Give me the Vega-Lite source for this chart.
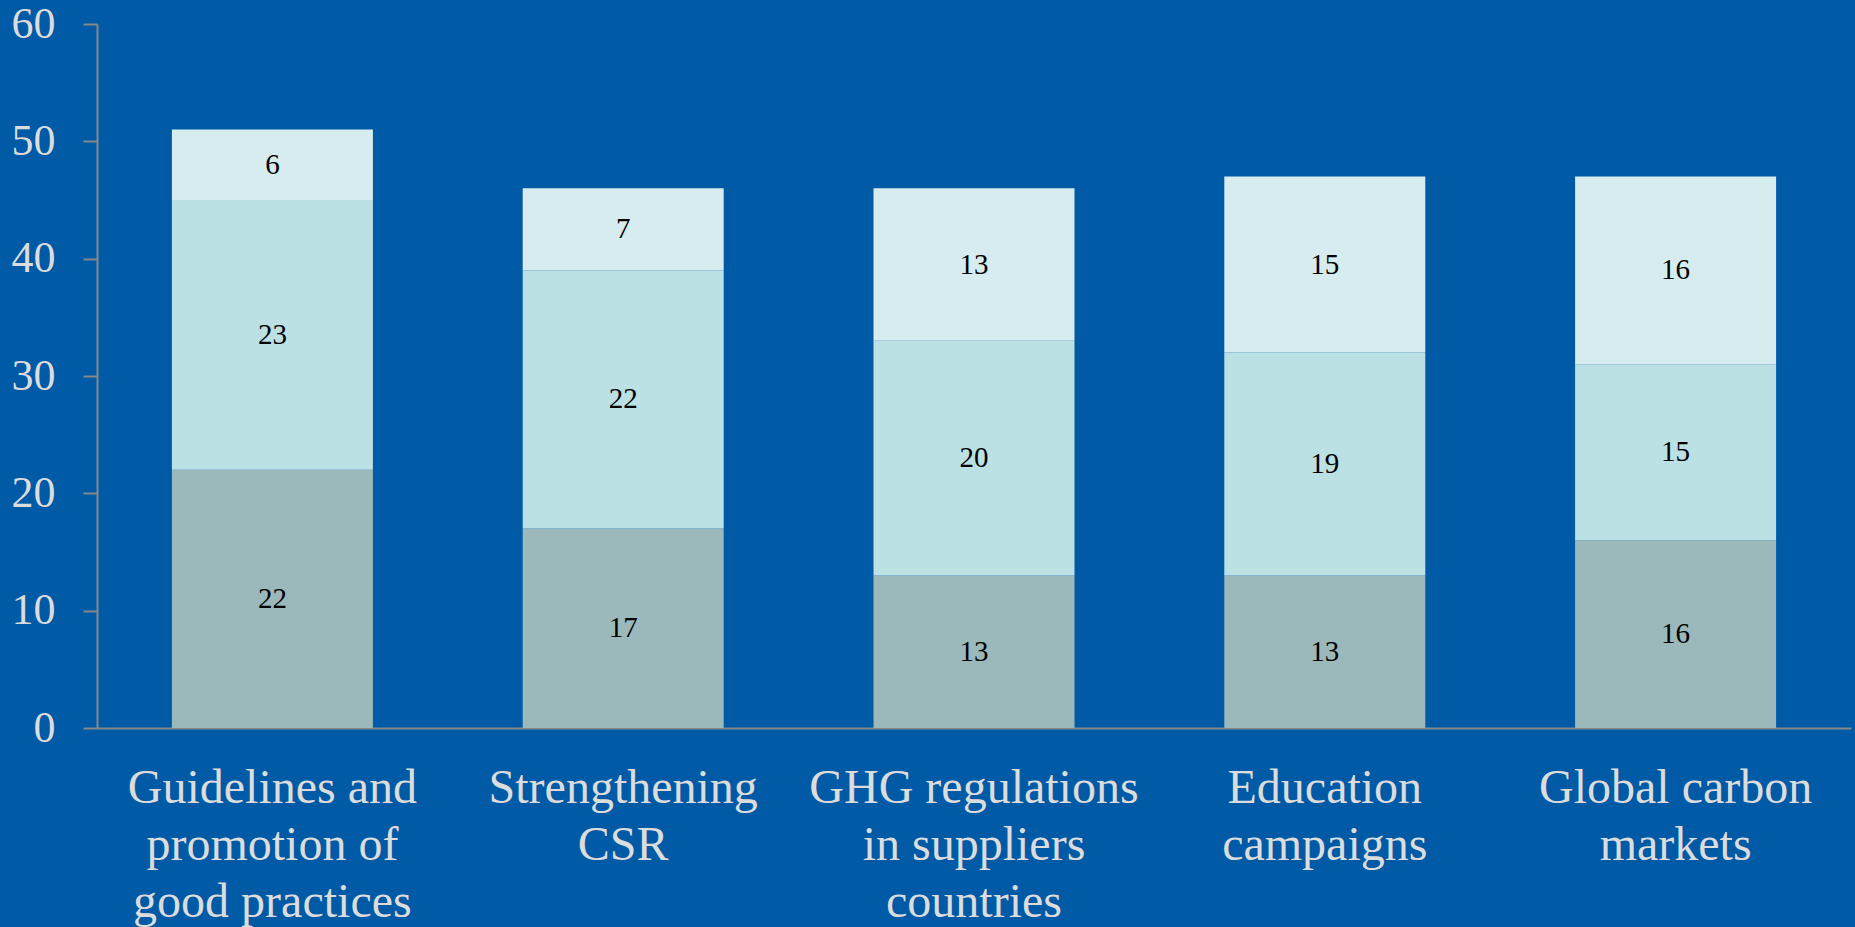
{
  "$schema": "https://vega.github.io/schema/vega-lite/v6.json",
  "width": 1754,
  "height": 704,
  "autosize": "none",
  "padding": {"left": 97, "top": 24, "right": 4, "bottom": 199},
  "background": "#005AA6",
  "config": {
    "view": {"stroke": null},
    "font": "Liberation Serif"
  },
  "data": {
    "values": [
      {"category": "Guidelines and promotion of good practices", "series": "A", "order": 1, "value": 22},
      {"category": "Guidelines and promotion of good practices", "series": "B", "order": 2, "value": 23},
      {"category": "Guidelines and promotion of good practices", "series": "C", "order": 3, "value": 6},
      {"category": "Strengthening CSR", "series": "A", "order": 1, "value": 17},
      {"category": "Strengthening CSR", "series": "B", "order": 2, "value": 22},
      {"category": "Strengthening CSR", "series": "C", "order": 3, "value": 7},
      {"category": "GHG regulations in suppliers countries", "series": "A", "order": 1, "value": 13},
      {"category": "GHG regulations in suppliers countries", "series": "B", "order": 2, "value": 20},
      {"category": "GHG regulations in suppliers countries", "series": "C", "order": 3, "value": 13},
      {"category": "Education campaigns", "series": "A", "order": 1, "value": 13},
      {"category": "Education campaigns", "series": "B", "order": 2, "value": 19},
      {"category": "Education campaigns", "series": "C", "order": 3, "value": 15},
      {"category": "Global carbon markets", "series": "A", "order": 1, "value": 16},
      {"category": "Global carbon markets", "series": "B", "order": 2, "value": 15},
      {"category": "Global carbon markets", "series": "C", "order": 3, "value": 16}
    ]
  },
  "encoding": {
    "x": {
      "field": "category",
      "type": "nominal",
      "sort": null,
      "scale": {"paddingInner": 0.427, "paddingOuter": 0.2135},
      "axis": {
        "title": null,
        "labelAngle": 0,
        "ticks": false,
        "domainColor": "#878787",
        "domainWidth": 2,
        "labelFont": "Liberation Serif",
        "labelFontSize": 48,
        "labelColor": "#DCDCDC",
        "labelLineHeight": 57,
        "labelPadding": 36,
        "labelLimit": 0,
        "labelOverlap": false,
        "labelBaseline": "top",
        "labelExpr": "datum.value == 'Guidelines and promotion of good practices' ? ['Guidelines and', 'promotion of', 'good practices'] : datum.value == 'Strengthening CSR' ? ['Strengthening', 'CSR'] : datum.value == 'GHG regulations in suppliers countries' ? ['GHG regulations', 'in suppliers', 'countries'] : datum.value == 'Education campaigns' ? ['Education', 'campaigns'] : ['Global carbon', 'markets']"
      }
    }
  },
  "layer": [
    {
      "mark": {"type": "bar"},
      "encoding": {
        "y": {
          "field": "value",
          "type": "quantitative",
          "aggregate": "sum",
          "stack": "zero",
          "scale": {"domain": [0, 60], "nice": false},
          "axis": {
            "title": null,
            "values": [0, 10, 20, 30, 40, 50, 60],
            "grid": false,
            "domainColor": "#878787",
            "domainWidth": 2,
            "tickColor": "#878787",
            "tickWidth": 2,
            "tickSize": 14,
            "labelFont": "Liberation Serif",
            "labelFontSize": 44,
            "labelColor": "#DCDCDC",
            "labelPadding": 28
          }
        },
        "color": {
          "field": "series",
          "type": "nominal",
          "scale": {"domain": ["A", "B", "C"], "range": ["#9BB9BB", "#BCE1E4", "#D6ECEE"]},
          "legend": null
        },
        "order": {"field": "order", "type": "quantitative"}
      }
    },
    {
      "mark": {"type": "text", "fontSize": 29, "color": "#000000", "font": "Liberation Serif", "baseline": "middle"},
      "encoding": {
        "y": {
          "field": "value",
          "type": "quantitative",
          "aggregate": "sum",
          "stack": "zero",
          "bandPosition": 0.5
        },
        "text": {"field": "value", "type": "quantitative", "aggregate": "sum"},
        "detail": {"field": "series", "type": "nominal"},
        "order": {"field": "order", "type": "quantitative"}
      }
    }
  ]
}
